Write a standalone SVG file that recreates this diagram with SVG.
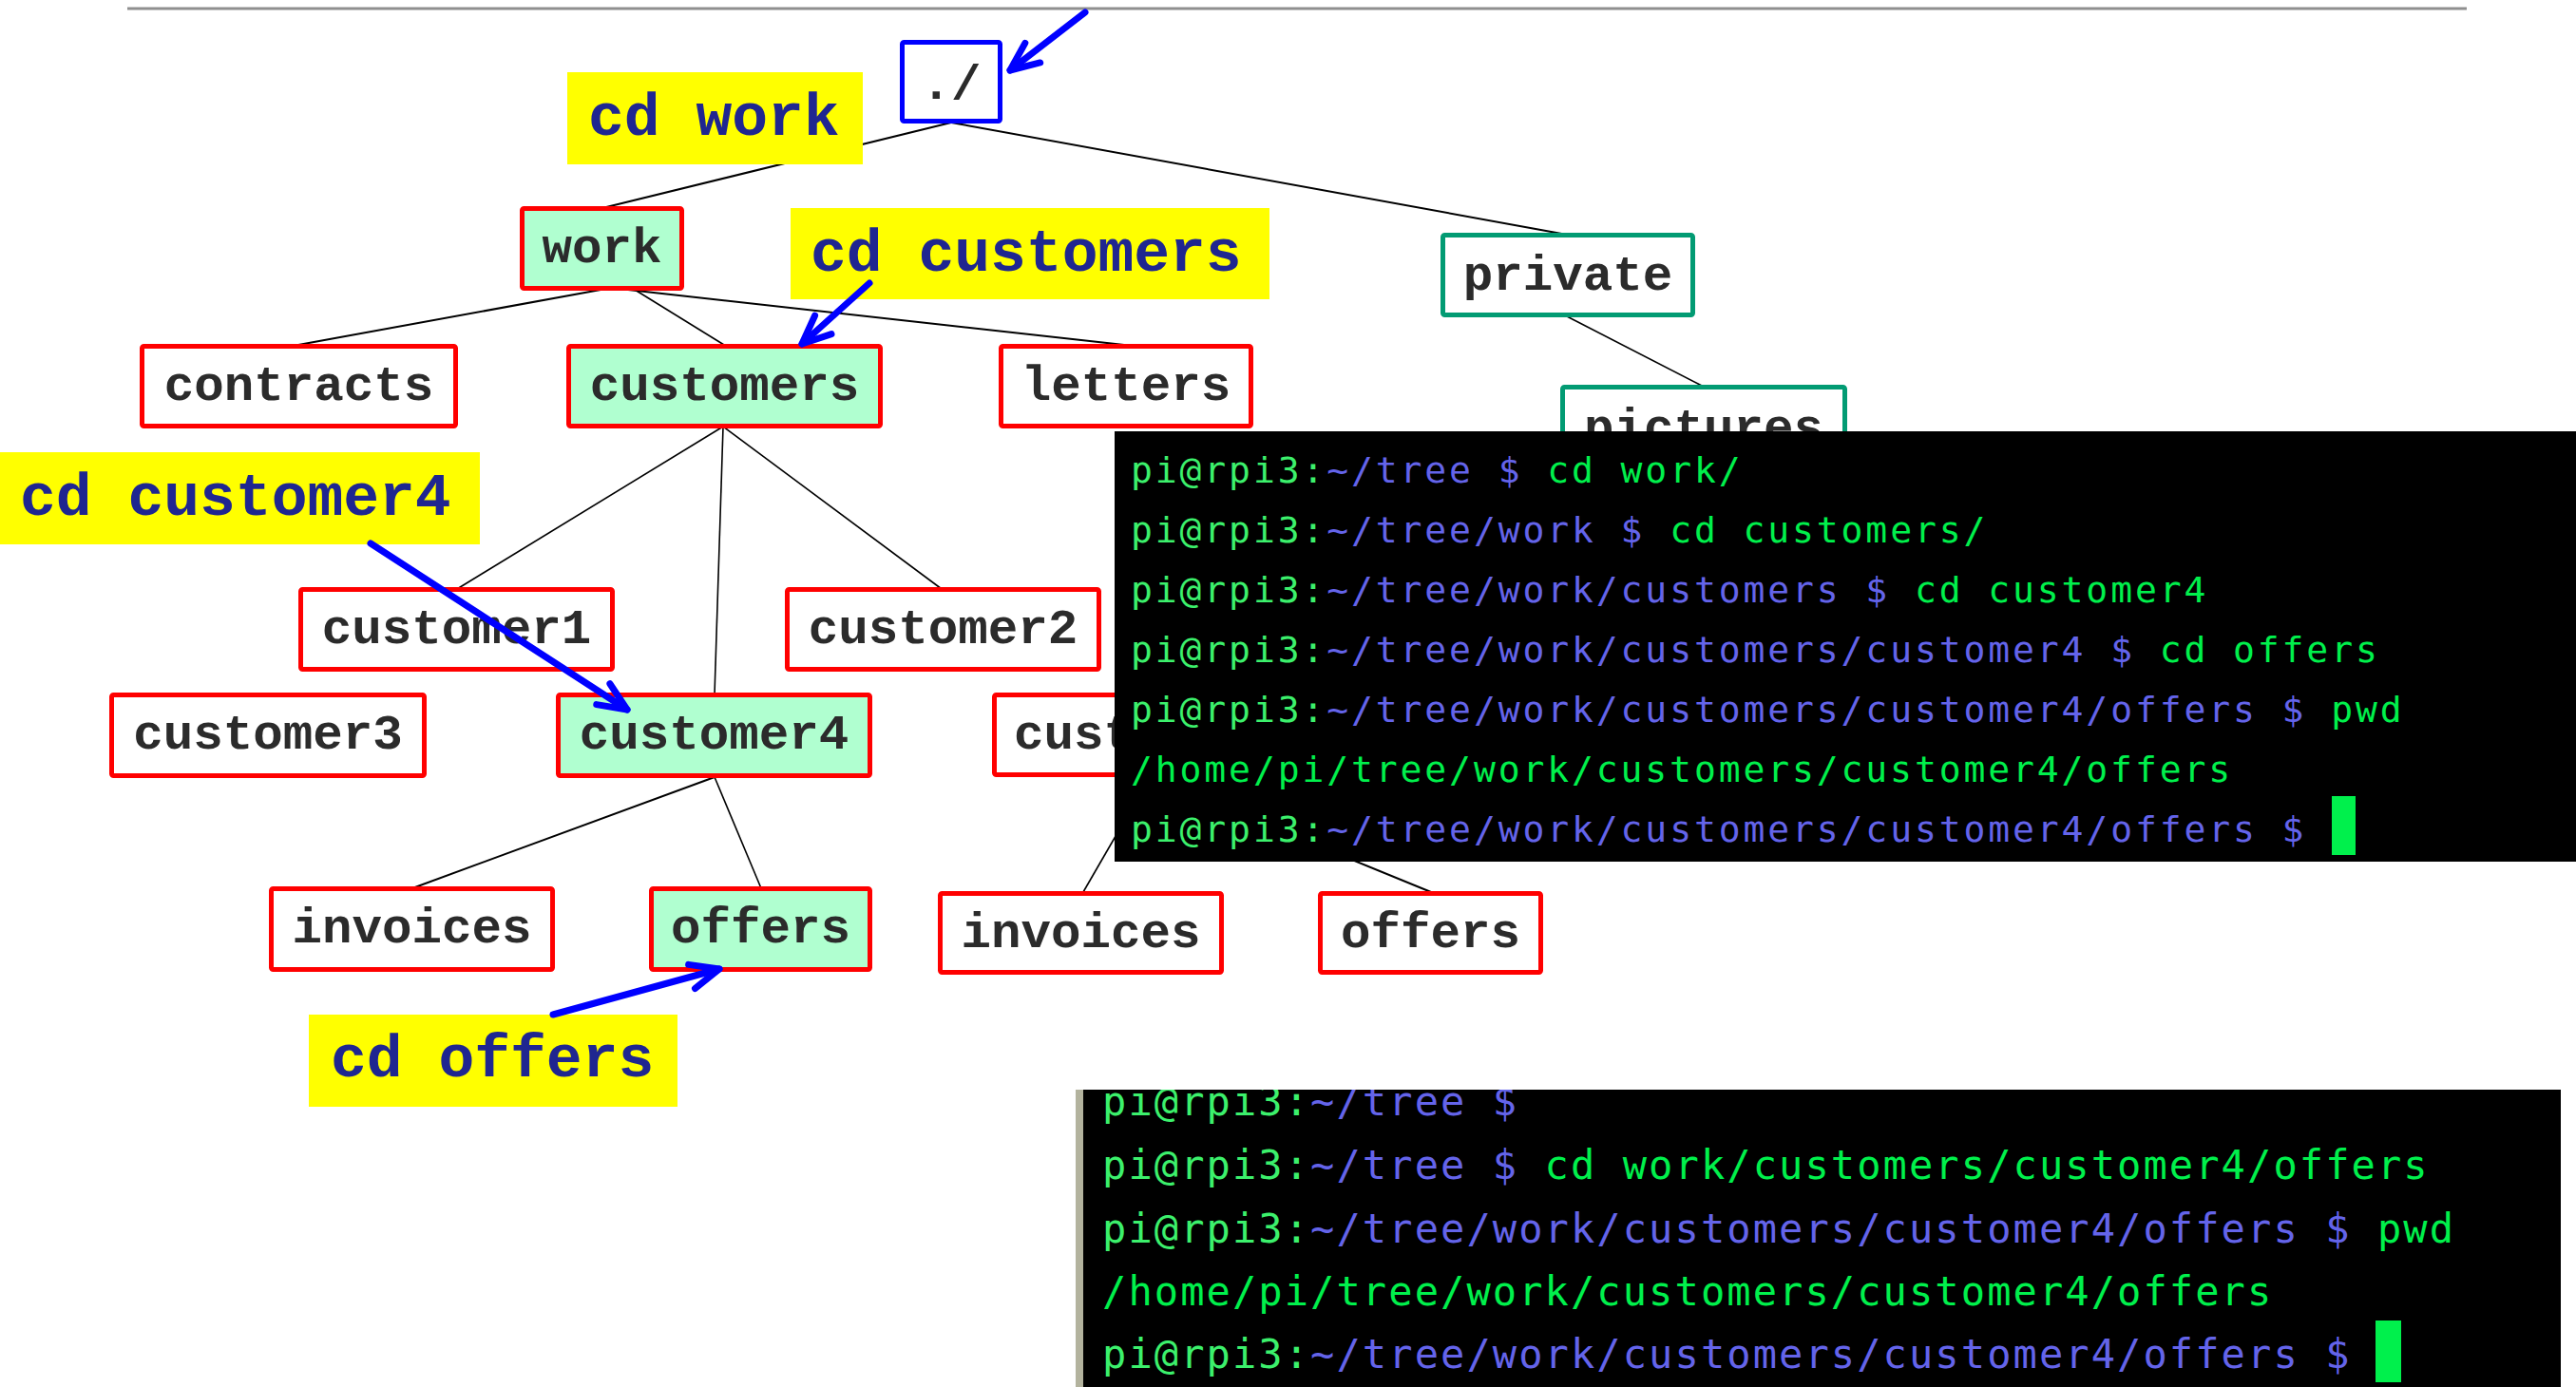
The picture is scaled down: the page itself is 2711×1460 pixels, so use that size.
<svg xmlns="http://www.w3.org/2000/svg" width="2711" height="1460" viewBox="0 0 2711 1460">
  <style>
    .edge { stroke: #000; stroke-width: 2; fill: none; }
    .edge-thin { stroke: #000; stroke-width: 1.6; fill: none; }
    .box { fill: #fff; stroke: #ff0000; stroke-width: 5; }
    .box.cur { fill: #b0ffd0; }
    .box.root { stroke: #0000ff; }
    .box.priv { stroke: #029b73; }
    .lbl { font-family: "Liberation Mono", "Courier New", monospace; font-weight: bold; font-size: 52.5px; fill: #2b2b2b; text-anchor: middle; }
    .tag { fill: #ffff00; }
    .tagtxt { font-family: "Liberation Mono", "Courier New", monospace; font-weight: bold; font-size: 63px; fill: #1f2690; }
    .ptr { stroke: #0000ff; stroke-width: 7; stroke-linecap: round; fill: none; marker-end: url(#chev); }
    .term { fill: #000; }
    .t1 { font-family: "DejaVu Sans Mono", monospace; font-size: 38px; letter-spacing: 2.9px; }
    .t2 { font-family: "DejaVu Sans Mono", monospace; font-size: 42px; letter-spacing: 2.1px; }
    .host { fill: #3cf06c; }
    .path { fill: #6464ea; }
    .cmd { fill: #00f04c; }
    .cursor { fill: #00f04c; }
  </style>
  <defs>
    <marker id="chev" markerUnits="userSpaceOnUse" markerWidth="60" markerHeight="60" refX="0" refY="0" orient="auto" style="overflow:visible">
      <path d="M -30 -13 L 0 0 L -30 13" fill="none" stroke="#0000ff" stroke-width="7" stroke-linecap="round" stroke-linejoin="round"/>
    </marker>
    <clipPath id="clip-term2">
      <rect x="1140" y="1147" width="1555" height="313"/>
    </clipPath>
    <clipPath id="clip-above-term1">
      <rect x="1600" y="380" width="400" height="74"/>
    </clipPath>
  </defs>

  <rect width="2711" height="1460" fill="#fff"/>

  <!-- rule across the top -->
  <line x1="134" y1="9" x2="2596" y2="9" stroke="#8f8f8f" stroke-width="3"/>

  <!-- tree edges -->
  <g id="connectors">
    <line class="edge" x1="1001" y1="129" x2="634" y2="219"/>
    <line class="edge" x1="1001" y1="129" x2="1649" y2="247"/>
    <line class="edge-thin" x1="1649" y1="333" x2="1793" y2="407"/>
    <line class="edge" x1="643" y1="303" x2="314" y2="363"/>
    <line class="edge-thin" x1="660" y1="300" x2="762" y2="363"/>
    <line class="edge" x1="643" y1="303" x2="1183" y2="363"/>
    <line class="edge-thin" x1="761" y1="449" x2="481" y2="620"/>
    <line class="edge-thin" x1="761" y1="449" x2="752" y2="731"/>
    <line class="edge-thin" x1="761" y1="449" x2="991" y2="620"/>
    <line class="edge" x1="752" y1="818" x2="434" y2="935"/>
    <line class="edge-thin" x1="752" y1="818" x2="801" y2="935"/>
    <line class="edge-thin" x1="1210" y1="818" x2="1140" y2="939"/>
    <line class="edge" x1="1210" y1="818" x2="1506" y2="939"/>
  </g>

  <!-- directory nodes -->
  <g id="node-root">
    <rect class="box root" x="949.5" y="44.5" width="103" height="83" rx="2"/>
    <text class="lbl" x="1001" y="104">./</text>
  </g>
  <g id="node-work">
    <rect class="box cur" x="549.5" y="219.5" width="168" height="84" rx="2"/>
    <text class="lbl" x="633.5" y="276">work</text>
  </g>
  <g id="node-private">
    <rect class="box priv" x="1518.5" y="247.5" width="263" height="84" rx="2"/>
    <text class="lbl" x="1650" y="305">private</text>
  </g>
  <g id="node-pictures" clip-path="url(#clip-above-term1)">
    <rect class="box priv" x="1644.5" y="407.5" width="297" height="84" rx="2"/>
    <text class="lbl" x="1793" y="466">pictures</text>
  </g>
  <g id="node-contracts">
    <rect class="box" x="149.5" y="364.5" width="330" height="84" rx="2"/>
    <text class="lbl" x="314.5" y="421">contracts</text>
  </g>
  <g id="node-customers">
    <rect class="box cur" x="598.5" y="364.5" width="328" height="84" rx="2"/>
    <text class="lbl" x="762.5" y="421">customers</text>
  </g>
  <g id="node-letters">
    <rect class="box" x="1053.5" y="364.5" width="263" height="84" rx="2"/>
    <text class="lbl" x="1185" y="421">letters</text>
  </g>
  <g id="node-customer1">
    <rect class="box" x="316.5" y="620.5" width="328" height="84" rx="2"/>
    <text class="lbl" x="480.5" y="677">customer1</text>
  </g>
  <g id="node-customer2">
    <rect class="box" x="828.5" y="620.5" width="328" height="84" rx="2"/>
    <text class="lbl" x="992.5" y="677">customer2</text>
  </g>
  <g id="node-customer3">
    <rect class="box" x="117.5" y="731.5" width="329" height="85" rx="2"/>
    <text class="lbl" x="282" y="788">customer3</text>
  </g>
  <g id="node-customer4">
    <rect class="box cur" x="587.5" y="731.5" width="328" height="85" rx="2"/>
    <text class="lbl" x="751.5" y="788">customer4</text>
  </g>
  <g id="node-customer5">
    <rect class="box" x="1046.5" y="731.5" width="328" height="84" rx="2"/>
    <text class="lbl" x="1067" y="788" style="text-anchor:start">cust</text>
  </g>
  <g id="node-invoices">
    <rect class="box" x="285.5" y="935.5" width="296" height="85" rx="2"/>
    <text class="lbl" x="433.5" y="992">invoices</text>
  </g>
  <g id="node-offers">
    <rect class="box cur" x="685.5" y="935.5" width="230" height="85" rx="2"/>
    <text class="lbl" x="800.5" y="992">offers</text>
  </g>
  <g id="node-invoices-2">
    <rect class="box" x="989.5" y="940.5" width="296" height="83" rx="2"/>
    <text class="lbl" x="1137.5" y="997">invoices</text>
  </g>
  <g id="node-offers-2">
    <rect class="box" x="1389.5" y="940.5" width="232" height="83" rx="2"/>
    <text class="lbl" x="1505.5" y="997">offers</text>
  </g>

  <!-- command call-outs -->
  <g id="tag-cd-work">
    <rect class="tag" x="597" y="76" width="311" height="97"/>
    <text class="tagtxt" x="619" y="142">cd work</text>
  </g>
  <g id="tag-cd-customers">
    <rect class="tag" x="832" y="219" width="504" height="96"/>
    <text class="tagtxt" x="853" y="285">cd customers</text>
  </g>
  <g id="tag-cd-customer4">
    <rect class="tag" x="0" y="476" width="505" height="97"/>
    <text class="tagtxt" x="21" y="542">cd customer4</text>
  </g>
  <g id="tag-cd-offers">
    <rect class="tag" x="325" y="1068" width="388" height="97"/>
    <text class="tagtxt" x="348" y="1133">cd offers</text>
  </g>

  <!-- pointers -->
  <g id="pointers">
    <line class="ptr" x1="1142" y1="13" x2="1063" y2="74"/>
    <line class="ptr" x1="915" y1="298" x2="844" y2="362"/>
    <line class="ptr" x1="390" y1="572" x2="660" y2="747"/>
    <line class="ptr" x1="582" y1="1068" x2="757" y2="1020"/>
  </g>

  <!-- terminal: step by step -->
  <g id="terminal-1">
    <rect class="term" x="1173" y="454" width="1538" height="453"/>
    <text class="t1" x="1190" y="508" xml:space="preserve"><tspan class="host">pi@rpi3:</tspan><tspan class="path">~/tree $</tspan><tspan class="cmd"> cd work/</tspan></text>
    <text class="t1" x="1190" y="571" xml:space="preserve"><tspan class="host">pi@rpi3:</tspan><tspan class="path">~/tree/work $</tspan><tspan class="cmd"> cd customers/</tspan></text>
    <text class="t1" x="1190" y="634" xml:space="preserve"><tspan class="host">pi@rpi3:</tspan><tspan class="path">~/tree/work/customers $</tspan><tspan class="cmd"> cd customer4</tspan></text>
    <text class="t1" x="1190" y="697" xml:space="preserve"><tspan class="host">pi@rpi3:</tspan><tspan class="path">~/tree/work/customers/customer4 $</tspan><tspan class="cmd"> cd offers</tspan></text>
    <text class="t1" x="1190" y="760" xml:space="preserve"><tspan class="host">pi@rpi3:</tspan><tspan class="path">~/tree/work/customers/customer4/offers $</tspan><tspan class="cmd"> pwd</tspan></text>
    <text class="t1 cmd" x="1190" y="823">/home/pi/tree/work/customers/customer4/offers</text>
    <text class="t1" x="1190" y="886" xml:space="preserve"><tspan class="host">pi@rpi3:</tspan><tspan class="path">~/tree/work/customers/customer4/offers $</tspan></text>
    <rect class="cursor" x="2454" y="838" width="25" height="62"/>
  </g>

  <!-- terminal: single path -->
  <g id="terminal-2">
    <rect x="1132" y="1147" width="10" height="313" fill="#b3b39e"/>
    <rect class="term" x="1140" y="1147" width="1555" height="313"/>
    <g clip-path="url(#clip-term2)">
      <text class="t2" x="1160" y="1174" xml:space="preserve"><tspan class="host">pi@rpi3:</tspan><tspan class="path">~/tree $</tspan></text>
      <text class="t2" x="1160" y="1241" xml:space="preserve"><tspan class="host">pi@rpi3:</tspan><tspan class="path">~/tree $</tspan><tspan class="cmd"> cd work/customers/customer4/offers</tspan></text>
      <text class="t2" x="1160" y="1308" xml:space="preserve"><tspan class="host">pi@rpi3:</tspan><tspan class="path">~/tree/work/customers/customer4/offers $</tspan><tspan class="cmd"> pwd</tspan></text>
      <text class="t2 cmd" x="1160" y="1374">/home/pi/tree/work/customers/customer4/offers</text>
      <text class="t2" x="1160" y="1440" xml:space="preserve"><tspan class="host">pi@rpi3:</tspan><tspan class="path">~/tree/work/customers/customer4/offers $</tspan></text>
      <rect class="cursor" x="2500" y="1390" width="27" height="65"/>
    </g>
  </g>
</svg>
